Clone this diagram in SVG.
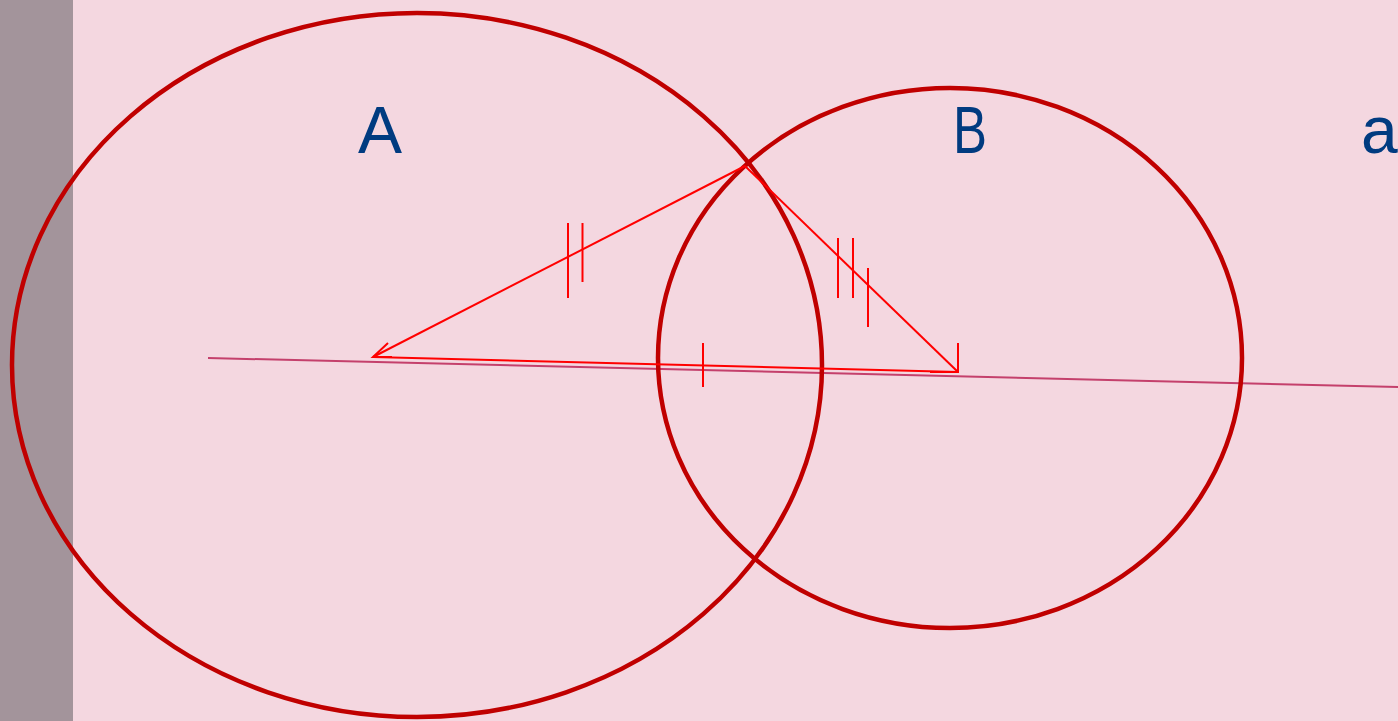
<svg xmlns="http://www.w3.org/2000/svg" width="1398" height="721" viewBox="0 0 1398 721">
<style>
.lbl{font-family:"Liberation Sans",Arial,sans-serif;font-size:66px;fill:#003B80}
.circ{fill:none;stroke:#C00000;stroke-width:4.5}
.red{fill:none;stroke:#FF0000;stroke-width:2}
</style>
<rect width="1398" height="721" fill="#F4D7E0"/>
<rect width="73" height="721" fill="#A3949B"/>
<g id="axis"><line x1="208" y1="358" x2="1398" y2="387" stroke="#C4406C" stroke-width="2"/></g>
<g id="circleA"><ellipse class="circ" cx="417" cy="365" rx="405" ry="352"/></g>
<g id="circleB"><ellipse class="circ" cx="950" cy="358" rx="292" ry="270"/></g>
<g id="connectors">
<line class="red" x1="745" y1="166" x2="373" y2="357"/>
<polyline class="red" points="388,343 373,357 392,357"/>
<line class="red" x1="745" y1="166" x2="958" y2="372"/>
<polyline class="red" points="958,343 958,372 930,372"/>
<line class="red" x1="373" y1="357" x2="958" y2="372"/>
<line class="red" x1="568" y1="223" x2="568" y2="298"/>
<line class="red" x1="582.5" y1="223" x2="582.5" y2="282"/>
<line class="red" x1="838" y1="238" x2="838" y2="298"/>
<line class="red" x1="853" y1="238" x2="853" y2="298"/>
<line class="red" x1="868" y1="268" x2="868" y2="327"/>
<line class="red" x1="703" y1="343" x2="703" y2="387"/>
</g>
<g id="labelA"><text class="lbl" x="380" y="153" text-anchor="middle">A</text></g>
<g id="labelB"><text class="lbl" x="970" y="153" text-anchor="middle" textLength="34" lengthAdjust="spacingAndGlyphs">B</text></g>
<g id="labela"><text class="lbl" x="1361" y="153">a</text></g>
</svg>
